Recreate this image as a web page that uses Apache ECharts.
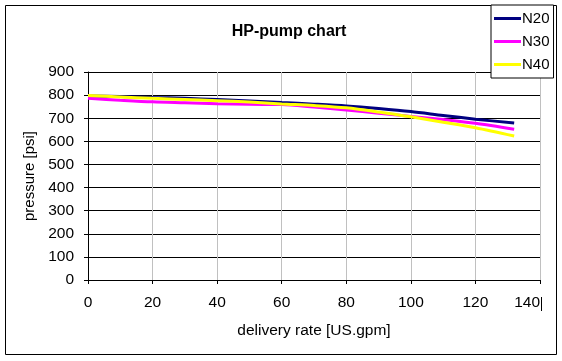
<!DOCTYPE html>
<html><head><meta charset="utf-8">
<script src="https://cdn.jsdelivr.net/npm/echarts@6/dist/echarts.min.js"></script>
<style>html,body{margin:0;padding:0;background:#fff}#c{width:562px;height:361px}</style>
</head><body><div id="c"></div>
<script>
const rates = [0,10,20,30,40,50,60,70,80,90,100,110,120,132];
const n20 = [796,794,790,786,781,775,768,761,753,742,729,712,696,679];
const n30 = [786,778,771,767,763,760,759,748,736,722,708,694,678,652];
const n40 = [798,792,786,781,776,770,762,755,745,727,706,683,659,623];
const seriesNames = ['N20','N30','N40'];
const seriesColors = ['#000080','#ff00ff','#ffff00'];
const seriesData = [n20,n30,n40];

const font = 'Arial, "Liberation Sans", sans-serif';
const chart = echarts.init(document.getElementById('c'), null, {renderer:'canvas'});
chart.setOption({
  animation:false,
  backgroundColor:'#fff',
  title:{text:'HP-pump chart', left:284, textAlign:'center', top:19,
    textStyle:{fontFamily:font,fontSize:16,fontWeight:'bold',color:'#000'}},
  legend:{orient:'vertical', left:491, top:5, width:62,
    padding:[6,4,6,3], itemGap:8, itemWidth:27, itemHeight:3, icon:'rect',
    borderColor:'#000', borderWidth:1, backgroundColor:'#fff',
    textStyle:{fontFamily:font,fontSize:15,lineHeight:15,color:'#000',padding:[0,0,0,-4]},
    data:seriesNames},
  graphic:[
    {type:'rect', shape:{x:5.5,y:5.5,width:551,height:349}, style:{fill:null,stroke:'#000',lineWidth:1}, silent:true, z:-1},
    {type:'line', shape:{x1:541.5,y1:297,x2:541.5,y2:311}, style:{stroke:'#000',lineWidth:1}, silent:true}
  ],
  grid:{left:88, right:22, top:72, bottom:81, containLabel:false},
  xAxis:{type:'value', min:0, max:140, interval:20,
    name:'delivery rate [US.gpm]', nameLocation:'middle', nameGap:43,
    nameTextStyle:{fontFamily:font,fontSize:15.5,color:'#000'},
    axisLine:{show:true,onZero:false,lineStyle:{color:'#000'}},
    axisTick:{show:true,inside:false,length:4,lineStyle:{color:'#000'}},
    axisLabel:{fontFamily:font,fontSize:15.5,color:'#000',margin:15,alignMaxLabel:'right'},
    splitLine:{show:true,lineStyle:{color:'#c0c0c0',width:1}}},
  yAxis:{type:'value', min:0, max:900, interval:100,
    name:'pressure [psi]', nameLocation:'middle', nameGap:48,
    nameTextStyle:{fontFamily:font,fontSize:15,color:'#000'},
    axisLine:{show:true,lineStyle:{color:'#000'}},
    axisTick:{show:true,inside:false,length:4,lineStyle:{color:'#000'}},
    axisLabel:{fontFamily:font,fontSize:15.5,color:'#000',margin:14},
    splitLine:{show:true,lineStyle:{color:'#000',width:1}}},
  series: seriesNames.map((n,i)=>({
    name:n, type:'line', smooth:0.3, symbol:'none',
    data: rates.map((r,j)=>[r, seriesData[i][j]]),
    lineStyle:{color:seriesColors[i], width:3},
    itemStyle:{color:seriesColors[i]}, z:2+i
  }))
});
</script></body></html>
